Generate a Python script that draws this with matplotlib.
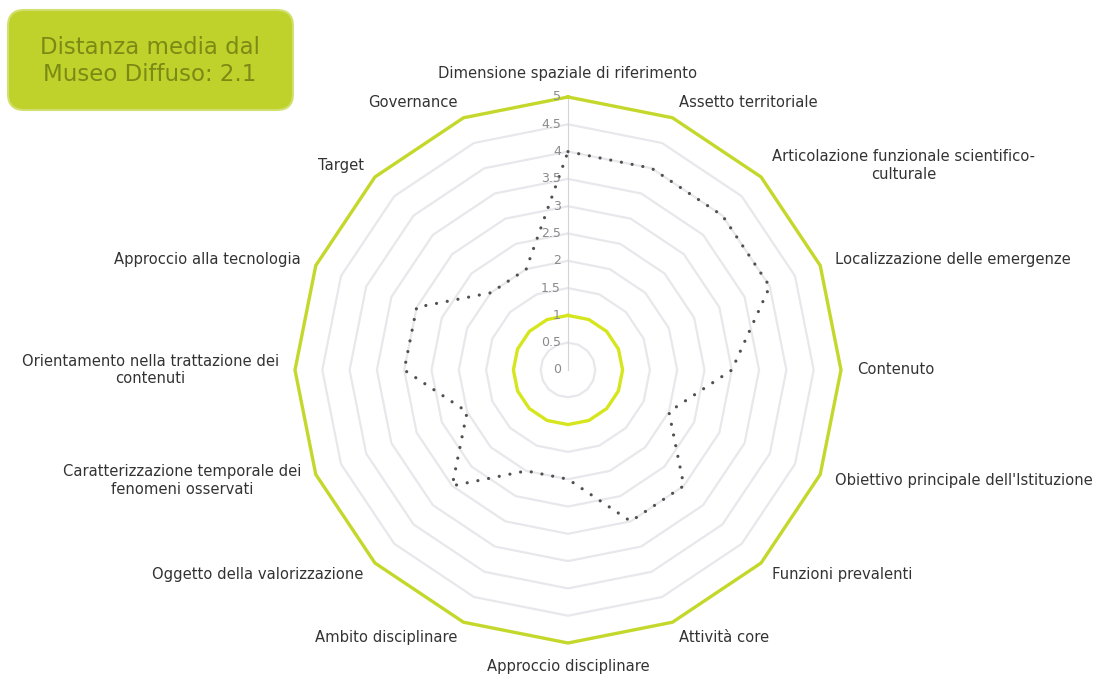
import numpy as np
import matplotlib.pyplot as plt
from matplotlib.patches import FancyBboxPatch


# ==============================
# DATI
# ==============================

categories = [
    "Dimensione spaziale di riferimento",
    "Assetto territoriale",
    "Articolazione funzionale scientifico-\nculturale",
    "Localizzazione delle emergenze",
    "Contenuto",
    "Obiettivo principale dell'Istituzione",
    "Funzioni prevalenti",
    "Attività core",
    "Approccio disciplinare",
    "Ambito disciplinare",
    "Oggetto della valorizzazione",
    "Caratterizzazione temporale dei\nfenomeni osservati",
    "Orientamento nella trattazione dei\ncontenuti",
    "Approccio alla tecnologia",
    "Target",
    "Governance",
]

# serie tratteggiata (istituto valutato)
values = [4, 4, 4, 4, 3, 2, 3, 3, 2, 2, 3, 2, 3, 3, 2, 2]

# serie di riferimento: esterno (Museo Diffuso) e interno
outer_ref = [5] * 16
inner_ref = [1] * 16

ring_levels = [0.5, 1.5, 2, 2.5, 3, 3.5, 4, 4.5]
tick_levels = [0, 0.5, 1, 1.5, 2, 2.5, 3, 3.5, 4, 4.5, 5]

title_text = "Distanza media dal\nMuseo Diffuso: 2.1"

LIME = "#c4d82c"
LIME_INNER = "#d6e61c"
GRID = "#e8e8ec"
TEXT = "#333333"


def closed(seq):
    return list(seq) + [seq[0]]


# ==============================
# FIGURA
# ==============================

fig = plt.figure(figsize=(11.04, 6.79), dpi=100)

ax = fig.add_axes([295 / 1104, 36 / 679, 546 / 1104, 546 / 679], projection="polar")
ax.set_theta_offset(np.pi / 2)
ax.set_theta_direction(-1)
ax.set_ylim(0, 5)
ax.axis("off")

n = len(categories)
theta = np.arange(n) * 2 * np.pi / n
theta_c = closed(list(theta))

# anelli della griglia
for lev in ring_levels:
    ax.plot(theta_c, [lev] * (n + 1), color=GRID, lw=1.6, zorder=1, clip_on=False)

# asse verticale dei valori
ax.plot([0, 0], [0, 5], color="#d4d4d4", lw=0.8, zorder=1)

# serie
ax.plot(theta_c, closed(outer_ref), color=LIME, lw=2.4, zorder=3, clip_on=False)
ax.plot(theta_c, closed(inner_ref), color=LIME_INNER, lw=2.4, zorder=3, clip_on=False)
ax.plot(theta_c, closed(values), color="#505050", lw=2.3,
        linestyle=(0, (0.01, 3.4)), dash_capstyle="round", zorder=4, clip_on=False)

# etichette dei valori
for lev in tick_levels:
    ax.annotate(f"{lev:g}", xy=(0, lev), xytext=(-7, 0), textcoords="offset pixels",
                ha="right", va="center", fontsize=9, color="#8a8a8a", zorder=5)

# etichette delle categorie
for t, lab in zip(theta, categories):
    sx, cy = np.sin(t), np.cos(t)
    if sx > 0.1:
        ha = "left"
    elif sx < -0.1:
        ha = "right"
    else:
        ha = "center"
    va = "center"
    if abs(sx) <= 0.1:
        va = "bottom" if cy > 0 else "top"
    ax.annotate(lab, xy=(t, 5), xytext=(16 * sx, 16 * cy), textcoords="offset pixels",
                ha=ha, va=va, multialignment="center", fontsize=10.6, color=TEXT,
                annotation_clip=False)

# riquadro titolo
ax_box = fig.add_axes([0, 0, 1, 1], zorder=-1)
ax_box.set_xlim(0, 1104)
ax_box.set_ylim(679, 0)
ax_box.axis("off")
box = FancyBboxPatch((8, 10), 285, 100, boxstyle="round,pad=0,rounding_size=16",
                     facecolor="#bfd12b", edgecolor="#d2e070", lw=1.5)
ax_box.add_patch(box)
ax_box.text(150, 61, title_text, ha="center", va="center", fontsize=16.5,
            color="#7b8a14", linespacing=1.25)

fig.savefig("out.png", dpi=100)
